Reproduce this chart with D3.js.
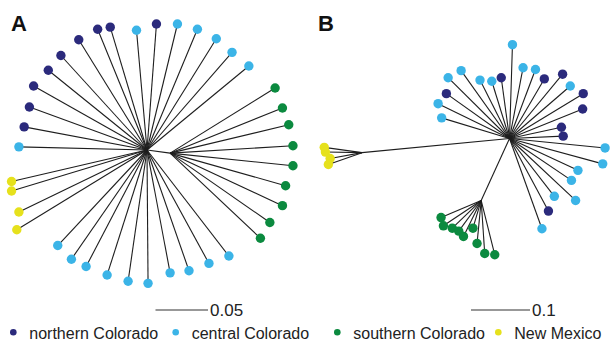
<!DOCTYPE html>
<html>
<head>
<meta charset="utf-8">
<script src="https://cdn.jsdelivr.net/npm/d3@7"></script>
<style>
  html, body { margin: 0; padding: 0; background: #fff; }
  svg { display: block; font-family: "Liberation Sans", Arial, sans-serif; }
</style>
</head>
<body>
<svg id="chart" width="610" height="344"></svg>
<script>
// ---------- DATA ----------
const regions = ["northern Colorado", "central Colorado", "southern Colorado", "New Mexico"];
const regionColors = ["#2b2a7c", "#3bb4e7", "#0b8a3f", "#e6e11c"];
const panelLabels = ["A", "B"];
const scaleBarValues = [0.05, 0.1];
const scaleBarLabels = ["0.05", "0.1"];

// Panel A tree (coordinates in substitutions/site, relative to root)
const treeA_root = [0, 0];
const treeA_southNode = [0.022, 0.003];
const treeA_northern = [
  [-0.047, -0.115], [-0.035, -0.117], [-0.065, -0.105], [-0.082, -0.090], [-0.094, -0.076],
  [-0.108, -0.061], [-0.112, -0.041], [-0.117, -0.022], [0.009, -0.120]
];
const treeA_central = [
  [-0.010, -0.114], [0.029, -0.120], [0.048, -0.115], [0.066, -0.106], [0.081, -0.093],
  [0.097, -0.080], [-0.122, -0.003],
  [-0.085, 0.091], [-0.072, 0.104], [-0.058, 0.111], [-0.038, 0.119], [-0.018, 0.125],
  [0.001, 0.127], [0.022, 0.117], [0.040, 0.115], [0.059, 0.108], [0.078, 0.101]
];
const treeA_southern = [
  [0.122, -0.059], [0.129, -0.040], [0.135, -0.024], [0.139, -0.004], [0.139, 0.015],
  [0.132, 0.034], [0.129, 0.053], [0.117, 0.069], [0.108, 0.084]
];
const treeA_newMexico = [
  [-0.129, 0.030], [-0.129, 0.039], [-0.122, 0.059], [-0.124, 0.076]
];

// Panel B tree
const treeB_root = [0, 0];
const treeB_southNode = [-0.048, 0.105];
const treeB_nmNode = [-0.250, 0.024];
const treeB_northern = [
  [-0.014, -0.103], [0.059, -0.101], [0.090, -0.109], [0.125, -0.076], [0.124, -0.050],
  [0.088, -0.019], [0.091, -0.004], [-0.107, -0.076], [0.066, 0.123]
];
const treeB_central = [
  [0.005, -0.159], [-0.082, -0.115], [-0.104, -0.103], [-0.050, -0.099], [-0.030, -0.097],
  [0.023, -0.120], [0.044, -0.117], [0.103, -0.089], [-0.121, -0.059], [-0.115, -0.035],
  [0.162, 0.016], [0.158, 0.043], [0.116, 0.054], [0.105, 0.071], [0.076, 0.098],
  [0.112, 0.105], [0.055, 0.153]
];
const treeB_southern = [
  [-0.116, 0.134], [-0.112, 0.148], [-0.097, 0.152], [-0.086, 0.157], [-0.078, 0.166],
  [-0.062, 0.152], [-0.055, 0.178], [-0.042, 0.195], [-0.025, 0.197]
];
const treeB_newMexico = [
  [-0.314, 0.015], [-0.312, 0.023], [-0.304, 0.034], [-0.307, 0.044]
];

// ---------- LAYOUT ----------
const svg = d3.select("#chart");

const panels = [
  {
    label: panelLabels[0], labelX: 11, labelY: 31,
    cx: 147, cy: 150, pxPerUnit: 1050,
    bar: { x: 155.5, y: 310, value: scaleBarValues[0], text: scaleBarLabels[0] },
    internal: [[treeA_root, treeA_southNode]],
    groups: [
      { parent: treeA_root, leaves: treeA_northern, region: 0 },
      { parent: treeA_root, leaves: treeA_central, region: 1 },
      { parent: treeA_southNode, leaves: treeA_southern, region: 2 },
      { parent: treeA_root, leaves: treeA_newMexico, region: 3 }
    ]
  },
  {
    label: panelLabels[1], labelX: 318, labelY: 31,
    cx: 509.5, cy: 138.5, pxPerUnit: 590,
    bar: { x: 471, y: 310, value: scaleBarValues[1], text: scaleBarLabels[1] },
    internal: [[treeB_root, treeB_southNode], [treeB_root, treeB_nmNode]],
    groups: [
      { parent: treeB_root, leaves: treeB_northern, region: 0 },
      { parent: treeB_root, leaves: treeB_central, region: 1 },
      { parent: treeB_southNode, leaves: treeB_southern, region: 2 },
      { parent: treeB_nmNode, leaves: treeB_newMexico, region: 3 }
    ]
  }
];

panels.forEach(p => {
  const x = d3.scaleLinear().domain([0, 1]).range([p.cx, p.cx + p.pxPerUnit]);
  const y = d3.scaleLinear().domain([0, 1]).range([p.cy, p.cy + p.pxPerUnit]);
  const len = d3.scaleLinear().domain([0, 1]).range([0, p.pxPerUnit]);
  const g = svg.append("g");

  const edges = [];
  p.internal.forEach(e => edges.push(e));
  p.groups.forEach(gr => gr.leaves.forEach(l => edges.push([gr.parent, l])));

  g.selectAll("line.edge").data(edges).enter().append("line")
    .attr("class", "edge")
    .attr("x1", d => x(d[0][0])).attr("y1", d => y(d[0][1]))
    .attr("x2", d => x(d[1][0])).attr("y2", d => y(d[1][1]))
    .attr("stroke", "#1e1e1e").attr("stroke-width", 1.1);

  const tips = [];
  p.groups.forEach(gr => gr.leaves.forEach(l => tips.push({ pt: l, region: gr.region })));
  g.selectAll("circle.tip").data(tips).enter().append("circle")
    .attr("class", "tip")
    .attr("cx", d => x(d.pt[0])).attr("cy", d => y(d.pt[1]))
    .attr("r", 4.7)
    .attr("fill", d => regionColors[d.region]);

  svg.append("text")
    .attr("x", p.labelX).attr("y", p.labelY)
    .attr("font-size", 22).attr("font-weight", "bold").attr("fill", "#111")
    .text(p.label);

  // scale bar
  svg.append("line")
    .attr("x1", p.bar.x).attr("x2", p.bar.x + len(p.bar.value))
    .attr("y1", p.bar.y).attr("y2", p.bar.y)
    .attr("stroke", "#333").attr("stroke-width", 1.2);
  svg.append("text")
    .attr("x", p.bar.x + len(p.bar.value) + 2).attr("y", p.bar.y + 6)
    .attr("font-size", 17).attr("fill", "#222")
    .text(p.bar.text);
});

// legend
const legendX = [13.3, 175.7, 337.3, 498.3];
const lg = svg.append("g");
regions.forEach((r, i) => {
  lg.append("circle").attr("cx", legendX[i]).attr("cy", 332.3).attr("r", 3.3).attr("fill", regionColors[i]);
  lg.append("text").attr("x", legendX[i] + 16).attr("y", 338.5)
    .attr("font-size", 16).attr("fill", "#222").text(r);
});
</script>
</body>
</html>
